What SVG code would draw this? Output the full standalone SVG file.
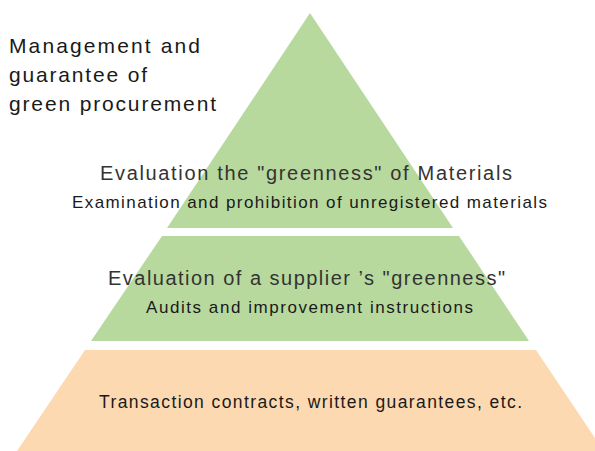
<svg xmlns="http://www.w3.org/2000/svg" width="595" height="451" viewBox="0 0 595 451">
<style>
.green{fill:#b7d99e}
.orange{fill:#fcd9b1}
text{font-family:"Liberation Sans",Arial,sans-serif;fill:#1a1a1a}
.big{font-size:21px}
.mid{font-size:20px;fill:#333}
.small{font-size:17px}
.base{font-size:17.5px}
</style>
<rect width="595" height="451" fill="#ffffff"/>
<g id="title">
<text class="big" x="9" y="53" textLength="191" lengthAdjust="spacing">Management and</text>
<text class="big" x="9" y="82" textLength="138" lengthAdjust="spacing">guarantee of</text>
<text class="big" x="9" y="111" textLength="207" lengthAdjust="spacing">green procurement</text>
</g>
<g id="top-level">
<polygon class="green" points="310,13 453,228 167,228"/>
<text class="mid" x="100" y="180" textLength="412" lengthAdjust="spacing">Evaluation the "greenness" of Materials</text>
<text class="small" x="72" y="208" textLength="475" lengthAdjust="spacing">Examination and prohibition of unregistered materials</text>
</g>
<g id="middle-level">
<polygon class="green" points="162,236 459,236 529,341 91,341"/>
<text class="mid" x="108" y="285" textLength="397" lengthAdjust="spacing">Evaluation of a supplier ’s "greenness"</text>
<text class="small" x="146" y="313" textLength="327" lengthAdjust="spacing">Audits and improvement instructions</text>
</g>
<g id="bottom-level">
<polygon class="orange" points="85,350 536,350 595,438 595,451 17,451"/>
<text class="base" x="99" y="408" textLength="423" lengthAdjust="spacing">Transaction contracts, written guarantees, etc.</text>
</g>
<g id="connectors"/>
</svg>
